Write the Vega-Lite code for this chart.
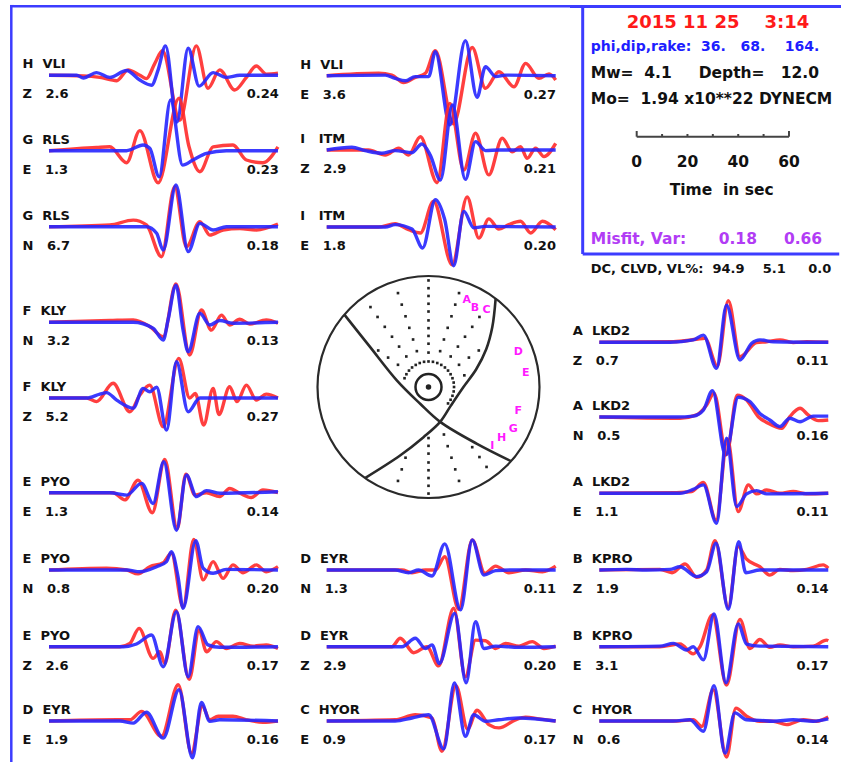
{
"$schema": "https://vega.github.io/schema/vega-lite/v6.json",
"padding": 0,
"spacing": 0,
"background": "white",
"config": {
  "view": {"stroke": null},
  "concat": {"spacing": 0},
  "axis": {"disable": true},
  "legend": {"disable": true},
  "range": {"category": ["#ff2a2a", "#2626ff"]},
  "line": {"strokeWidth": 3.4, "interpolate": "monotone", "opacity": 0.9},
  "text": {"font": "DejaVu Sans", "fontWeight": "bold", "fontSize": 13, "baseline": "middle", "align": "left", "color": "#111"}
},
"datasets": {
"lab": [
{"p":"L1","st":"H\u00a0\u00a0VLI","cm":"Z\u00a0\u00a0\u00a02.6","vr":"0.24"},
{"p":"L2","st":"G\u00a0\u00a0RLS","cm":"E\u00a0\u00a0\u00a01.3","vr":"0.23"},
{"p":"L3","st":"G\u00a0\u00a0RLS","cm":"N\u00a0\u00a0\u00a06.7","vr":"0.18"},
{"p":"L4","st":"F\u00a0\u00a0KLY","cm":"N\u00a0\u00a0\u00a03.2","vr":"0.13"},
{"p":"L5","st":"F\u00a0\u00a0KLY","cm":"Z\u00a0\u00a0\u00a05.2","vr":"0.27"},
{"p":"L6","st":"E\u00a0\u00a0PYO","cm":"E\u00a0\u00a0\u00a01.3","vr":"0.14"},
{"p":"L7","st":"E\u00a0\u00a0PYO","cm":"N\u00a0\u00a0\u00a00.8","vr":"0.20"},
{"p":"L8","st":"E\u00a0\u00a0PYO","cm":"Z\u00a0\u00a0\u00a02.6","vr":"0.17"},
{"p":"L9","st":"D\u00a0\u00a0EYR","cm":"E\u00a0\u00a0\u00a01.9","vr":"0.16"},
{"p":"M1","st":"H\u00a0\u00a0VLI","cm":"E\u00a0\u00a0\u00a03.6","vr":"0.27"},
{"p":"M2","st":"I\u00a0\u00a0\u00a0ITM","cm":"Z\u00a0\u00a0\u00a02.9","vr":"0.21"},
{"p":"M3","st":"I\u00a0\u00a0\u00a0ITM","cm":"E\u00a0\u00a0\u00a01.8","vr":"0.20"},
{"p":"M4","st":"D\u00a0\u00a0EYR","cm":"N\u00a0\u00a0\u00a01.3","vr":"0.11"},
{"p":"M5","st":"D\u00a0\u00a0EYR","cm":"Z\u00a0\u00a0\u00a02.9","vr":"0.20"},
{"p":"M6","st":"C\u00a0\u00a0HYOR","cm":"E\u00a0\u00a0\u00a00.9","vr":"0.17"},
{"p":"R1","st":"A\u00a0\u00a0LKD2","cm":"Z\u00a0\u00a0\u00a00.7","vr":"0.11"},
{"p":"R2","st":"A\u00a0\u00a0LKD2","cm":"N\u00a0\u00a0\u00a00.5","vr":"0.16"},
{"p":"R3","st":"A\u00a0\u00a0LKD2","cm":"E\u00a0\u00a0\u00a01.1","vr":"0.11"},
{"p":"R4","st":"B\u00a0\u00a0KPRO","cm":"Z\u00a0\u00a0\u00a01.9","vr":"0.14"},
{"p":"R5","st":"B\u00a0\u00a0KPRO","cm":"E\u00a0\u00a0\u00a03.1","vr":"0.17"},
{"p":"R6","st":"C\u00a0\u00a0HYOR","cm":"N\u00a0\u00a0\u00a00.6","vr":"0.14"}
],
"info": [
{"k":"date","txt":"2015 11 25\u00a0\u00a0\u00a0\u00a03:14"},
{"k":"phi","txt":"phi,dip,rake:\u00a0\u00a036.\u00a0\u00a0\u00a068.\u00a0\u00a0\u00a0\u00a0164."},
{"k":"mw","txt":"Mw=\u00a0\u00a04.1\u00a0\u00a0\u00a0\u00a0\u00a0Depth=\u00a0\u00a0\u00a012.0"},
{"k":"mo","txt":"Mo=\u00a0\u00a01.94 x10**22 DYNECM"},
{"k":"time","txt":"Time\u00a0\u00a0in sec"},
{"k":"mis","txt":"Misfit, Var:\u00a0\u00a0\u00a0\u00a0\u00a0\u00a00.18\u00a0\u00a0\u00a0\u00a0\u00a00.66"},
{"k":"dc","txt":"DC, CLVD, VL%:\u00a0\u00a094.9\u00a0\u00a0\u00a0\u00a05.1\u00a0\u00a0\u00a0\u00a0\u00a00.0"}
],
"tk": [{"v":0},{"v":10},{"v":20},{"v":30},{"v":40},{"v":50},{"v":60}],
"ctr": [{"x":0,"y":0}],
"np": [
{"pl":"A","i":0,"x":-0.758,"y":0.652},{"pl":"A","i":1,"x":-0.527,"y":0.361},{"pl":"A","i":2,"x":-0.286,"y":0.06},{"pl":"A","i":3,"x":-0.075,"y":-0.151},{"pl":"A","i":4,"x":0.105,"y":-0.314},{"pl":"A","i":5,"x":0.437,"y":-0.512},{"pl":"A","i":6,"x":0.744,"y":-0.668},
{"pl":"B","i":0,"x":0.605,"y":0.796},{"pl":"B","i":1,"x":0.575,"y":0.54},{"pl":"B","i":2,"x":0.52,"y":0.34},{"pl":"B","i":3,"x":0.43,"y":0.16},{"pl":"B","i":4,"x":0.315,"y":0.0},{"pl":"B","i":5,"x":0.2,"y":-0.17},{"pl":"B","i":6,"x":0.105,"y":-0.314},{"pl":"B","i":7,"x":-0.045,"y":-0.452},{"pl":"B","i":8,"x":-0.256,"y":-0.617},{"pl":"B","i":9,"x":-0.572,"y":-0.82}
],
"dots": [
{"x":0,"y":0.31},{"x":0,"y":0.39},{"x":0,"y":0.46},{"x":0,"y":0.53},{"x":0,"y":0.6},{"x":0,"y":0.68},{"x":0,"y":0.75},{"x":0,"y":0.82},{"x":0,"y":0.89},{"x":0,"y":0.96},
{"x":-0.105,"y":0.323},{"x":-0.139,"y":0.428},{"x":-0.173,"y":0.533},{"x":-0.207,"y":0.637},{"x":-0.241,"y":0.742},{"x":-0.275,"y":0.846},
{"x":-0.2,"y":0.275},{"x":-0.265,"y":0.364},{"x":-0.329,"y":0.453},{"x":-0.394,"y":0.542},{"x":-0.459,"y":0.631},{"x":-0.523,"y":0.72},
{"x":-0.275,"y":0.2},{"x":-0.364,"y":0.265},{"x":-0.453,"y":0.329},
{"x":0.105,"y":0.323},{"x":0.139,"y":0.428},{"x":0.173,"y":0.533},{"x":0.207,"y":0.637},{"x":0.241,"y":0.742},{"x":0.275,"y":0.846},
{"x":0.2,"y":0.275},{"x":0.265,"y":0.364},{"x":0.329,"y":0.453},{"x":0.394,"y":0.542},{"x":0.459,"y":0.631},
{"x":0.275,"y":0.2},{"x":0.364,"y":0.265},{"x":0.453,"y":0.329},{"x":0.323,"y":0.105},
{"x":0.176,"y":-0.148},{"x":0.199,"y":-0.115},{"x":0.216,"y":-0.079},{"x":0.227,"y":-0.04},{"x":0.23,"y":0},{"x":0.227,"y":0.04},{"x":0.216,"y":0.079},{"x":0.199,"y":0.115},{"x":0.176,"y":0.148},{"x":0.148,"y":0.176},{"x":0.115,"y":0.199},{"x":0.079,"y":0.216},{"x":0.04,"y":0.227},{"x":0,"y":0.23},{"x":-0.04,"y":0.227},{"x":-0.079,"y":0.216},{"x":-0.115,"y":0.199},{"x":-0.148,"y":0.176},{"x":-0.176,"y":0.148},{"x":-0.199,"y":0.115},{"x":-0.216,"y":0.079},
{"x":0,"y":-0.46},{"x":0,"y":-0.53},{"x":0,"y":-0.6},{"x":0,"y":-0.68},{"x":0,"y":-0.75},{"x":0,"y":-0.82},{"x":0,"y":-0.89},{"x":0,"y":-0.96},
{"x":0.139,"y":-0.428},{"x":0.173,"y":-0.533},{"x":0.207,"y":-0.637},{"x":0.241,"y":-0.742},{"x":0.275,"y":-0.846},
{"x":0.394,"y":-0.542},{"x":0.459,"y":-0.631},{"x":0.523,"y":-0.72},
{"x":-0.207,"y":-0.637},{"x":-0.241,"y":-0.742},{"x":-0.275,"y":-0.846}
],
"sta": [
{"k":"A","x":0.344,"y":0.784},{"k":"B","x":0.419,"y":0.714},{"k":"C","x":0.524,"y":0.694},{"k":"D","x":0.809,"y":0.318},{"k":"E","x":0.876,"y":0.123},{"k":"F","x":0.809,"y":-0.216},{"k":"G","x":0.764,"y":-0.378},{"k":"H","x":0.659,"y":-0.462},{"k":"I","x":0.575,"y":-0.529}
],
"w": [
{"p":"L1","s":"o","t":0,"a":0},{"p":"L1","s":"o","t":13.5,"a":-0.02},{"p":"L1","s":"o","t":20,"a":-0.07},{"p":"L1","s":"o","t":26.6,"a":-0.18},{"p":"L1","s":"o","t":31.1,"a":0.18},{"p":"L1","s":"o","t":35.7,"a":0},{"p":"L1","s":"o","t":38.3,"a":-0.11},{"p":"L1","s":"o","t":41.6,"a":0.4},{"p":"L1","s":"o","t":44.6,"a":0.82},{"p":"L1","s":"o","t":51.4,"a":-1.5},{"p":"L1","s":"o","t":57.9,"a":0.98},{"p":"L1","s":"o","t":62.5,"a":-0.43},{"p":"L1","s":"o","t":67.1,"a":0.18},{"p":"L1","s":"o","t":73,"a":-0.49},{"p":"L1","s":"o","t":77.6,"a":-0.07},{"p":"L1","s":"o","t":81.5,"a":0.31},{"p":"L1","s":"o","t":85.4,"a":0.04},{"p":"L1","s":"o","t":90,"a":0.07},
{"p":"L1","s":"s","t":0,"a":0},{"p":"L1","s":"s","t":10.9,"a":0},{"p":"L1","s":"s","t":13.5,"a":-0.09},{"p":"L1","s":"s","t":18.7,"a":0.09},{"p":"L1","s":"s","t":23.9,"a":-0.07},{"p":"L1","s":"s","t":30.5,"a":0.16},{"p":"L1","s":"s","t":35.7,"a":-0.16},{"p":"L1","s":"s","t":40.3,"a":-0.33},{"p":"L1","s":"s","t":42.9,"a":0.18},{"p":"L1","s":"s","t":45.8,"a":0.98},{"p":"L1","s":"s","t":50.3,"a":-1.56},{"p":"L1","s":"s","t":54.7,"a":0.9},{"p":"L1","s":"s","t":59,"a":-0.36},{"p":"L1","s":"s","t":64.5,"a":0.09},{"p":"L1","s":"s","t":69.7,"a":-0.07},{"p":"L1","s":"s","t":75,"a":0},{"p":"L1","s":"s","t":90,"a":0},
{"p":"L2","s":"o","t":0,"a":0},{"p":"L2","s":"o","t":18.7,"a":0.11},{"p":"L2","s":"o","t":23.9,"a":0.13},{"p":"L2","s":"o","t":30.5,"a":-0.4},{"p":"L2","s":"o","t":35.7,"a":0.67},{"p":"L2","s":"o","t":42.9,"a":-1.07},{"p":"L2","s":"o","t":51.1,"a":1.75},{"p":"L2","s":"o","t":55,"a":0.15},{"p":"L2","s":"o","t":59.3,"a":-0.7},{"p":"L2","s":"o","t":64.5,"a":0.13},{"p":"L2","s":"o","t":72.3,"a":0.19},{"p":"L2","s":"o","t":77.6,"a":-0.31},{"p":"L2","s":"o","t":84.1,"a":-0.4},{"p":"L2","s":"o","t":90,"a":0.13},
{"p":"L2","s":"s","t":0,"a":0},{"p":"L2","s":"s","t":30.5,"a":0},{"p":"L2","s":"s","t":37,"a":0.19},{"p":"L2","s":"s","t":39.6,"a":0.08},{"p":"L2","s":"s","t":43.3,"a":-0.87},{"p":"L2","s":"s","t":47.8,"a":1.69},{"p":"L2","s":"s","t":52.5,"a":-0.48},{"p":"L2","s":"s","t":56.6,"a":-0.31},{"p":"L2","s":"s","t":61.9,"a":-0.09},{"p":"L2","s":"s","t":69.7,"a":0},{"p":"L2","s":"s","t":90,"a":0},
{"p":"L3","s":"o","t":0,"a":0},{"p":"L3","s":"o","t":23.9,"a":0.06},{"p":"L3","s":"o","t":33.1,"a":0.22},{"p":"L3","s":"o","t":38.3,"a":0.06},{"p":"L3","s":"o","t":44.2,"a":-1},{"p":"L3","s":"o","t":49.4,"a":1.33},{"p":"L3","s":"o","t":54,"a":-0.67},{"p":"L3","s":"o","t":59.3,"a":0.17},{"p":"L3","s":"o","t":63.2,"a":-0.28},{"p":"L3","s":"o","t":68.4,"a":-0.11},{"p":"L3","s":"o","t":75,"a":-0.06},{"p":"L3","s":"o","t":81.5,"a":-0.11},{"p":"L3","s":"o","t":90,"a":0.09},
{"p":"L3","s":"s","t":0,"a":0},{"p":"L3","s":"s","t":38.3,"a":0},{"p":"L3","s":"s","t":42.3,"a":-0.22},{"p":"L3","s":"s","t":44.9,"a":-0.78},{"p":"L3","s":"s","t":49.9,"a":1.39},{"p":"L3","s":"s","t":54.7,"a":-0.83},{"p":"L3","s":"s","t":59.3,"a":0.11},{"p":"L3","s":"s","t":64.5,"a":-0.11},{"p":"L3","s":"s","t":69.7,"a":0},{"p":"L3","s":"s","t":90,"a":0},
{"p":"L4","s":"o","t":0,"a":0},{"p":"L4","s":"o","t":23.9,"a":0.06},{"p":"L4","s":"o","t":33.1,"a":0.08},{"p":"L4","s":"o","t":39.6,"a":-0.14},{"p":"L4","s":"o","t":44.9,"a":-0.48},{"p":"L4","s":"o","t":49.9,"a":1.28},{"p":"L4","s":"o","t":55.3,"a":-1.09},{"p":"L4","s":"o","t":59.9,"a":0.41},{"p":"L4","s":"o","t":63.8,"a":-0.26},{"p":"L4","s":"o","t":67.8,"a":0.24},{"p":"L4","s":"o","t":71,"a":-0.09},{"p":"L4","s":"o","t":75,"a":0.1},{"p":"L4","s":"o","t":78.9,"a":-0.06},{"p":"L4","s":"o","t":85.4,"a":0.08},{"p":"L4","s":"o","t":90,"a":-0.03},
{"p":"L4","s":"s","t":0,"a":0},{"p":"L4","s":"s","t":33.1,"a":0},{"p":"L4","s":"s","t":40.9,"a":-0.2},{"p":"L4","s":"s","t":44.9,"a":-0.59},{"p":"L4","s":"s","t":46.8,"a":0.08},{"p":"L4","s":"s","t":49.9,"a":1.24},{"p":"L4","s":"s","t":52.7,"a":-0.26},{"p":"L4","s":"s","t":54.7,"a":-0.98},{"p":"L4","s":"s","t":59.3,"a":0.3},{"p":"L4","s":"s","t":63.2,"a":-0.09},{"p":"L4","s":"s","t":67.1,"a":0.06},{"p":"L4","s":"s","t":72.3,"a":-0.03},{"p":"L4","s":"s","t":90,"a":0},
{"p":"L5","s":"o","t":0,"a":0},{"p":"L5","s":"o","t":14.8,"a":0},{"p":"L5","s":"o","t":18.7,"a":-0.12},{"p":"L5","s":"o","t":25.2,"a":0.49},{"p":"L5","s":"o","t":31.8,"a":-0.46},{"p":"L5","s":"o","t":35.7,"a":0.1},{"p":"L5","s":"o","t":39.6,"a":0.43},{"p":"L5","s":"o","t":44.9,"a":-0.96},{"p":"L5","s":"o","t":51,"a":1.32},{"p":"L5","s":"o","t":55.3,"a":0},{"p":"L5","s":"o","t":57.5,"a":0.15},{"p":"L5","s":"o","t":60.8,"a":-0.9},{"p":"L5","s":"o","t":64.5,"a":0.32},{"p":"L5","s":"o","t":66.8,"a":-0.55},{"p":"L5","s":"o","t":71,"a":0.38},{"p":"L5","s":"o","t":73.9,"a":-0.12},{"p":"L5","s":"o","t":77.6,"a":0.43},{"p":"L5","s":"o","t":81.5,"a":-0.07},{"p":"L5","s":"o","t":85.4,"a":0.13},{"p":"L5","s":"o","t":90,"a":0},
{"p":"L5","s":"s","t":0,"a":0},{"p":"L5","s":"s","t":14.8,"a":0},{"p":"L5","s":"s","t":20,"a":0.13},{"p":"L5","s":"s","t":22.6,"a":0.18},{"p":"L5","s":"s","t":26.6,"a":-0.07},{"p":"L5","s":"s","t":33.1,"a":-0.34},{"p":"L5","s":"s","t":37,"a":0.32},{"p":"L5","s":"s","t":39.6,"a":0.21},{"p":"L5","s":"s","t":42.3,"a":0.36},{"p":"L5","s":"s","t":46.2,"a":-1.07},{"p":"L5","s":"s","t":50.1,"a":1.21},{"p":"L5","s":"s","t":54.7,"a":-0.46},{"p":"L5","s":"s","t":59.3,"a":0},{"p":"L5","s":"s","t":90,"a":0},
{"p":"L6","s":"o","t":0,"a":0},{"p":"L6","s":"o","t":25.2,"a":0},{"p":"L6","s":"o","t":29.8,"a":-0.24},{"p":"L6","s":"o","t":35,"a":0.42},{"p":"L6","s":"o","t":40.6,"a":-0.67},{"p":"L6","s":"o","t":45.5,"a":1.11},{"p":"L6","s":"o","t":50.4,"a":-1.2},{"p":"L6","s":"o","t":53.8,"a":0.62},{"p":"L6","s":"o","t":57.4,"a":-0.08},{"p":"L6","s":"o","t":61.9,"a":0},{"p":"L6","s":"o","t":67.1,"a":-0.13},{"p":"L6","s":"o","t":71,"a":0.14},{"p":"L6","s":"o","t":75,"a":-0.02},{"p":"L6","s":"o","t":79.5,"a":-0.16},{"p":"L6","s":"o","t":84.1,"a":0.09},{"p":"L6","s":"o","t":90,"a":0},
{"p":"L6","s":"s","t":0,"a":0},{"p":"L6","s":"s","t":23.9,"a":0},{"p":"L6","s":"s","t":30.5,"a":-0.08},{"p":"L6","s":"s","t":36.4,"a":0.31},{"p":"L6","s":"s","t":40.9,"a":-0.36},{"p":"L6","s":"s","t":45.1,"a":1.03},{"p":"L6","s":"s","t":50.1,"a":-1.25},{"p":"L6","s":"s","t":54,"a":0.59},{"p":"L6","s":"s","t":58,"a":-0.13},{"p":"L6","s":"s","t":61.9,"a":0.07},{"p":"L6","s":"s","t":67.1,"a":-0.02},{"p":"L6","s":"s","t":90,"a":0.03},
{"p":"L7","s":"o","t":0,"a":0},{"p":"L7","s":"o","t":22.6,"a":0.06},{"p":"L7","s":"o","t":30.5,"a":0},{"p":"L7","s":"o","t":35,"a":-0.13},{"p":"L7","s":"o","t":39.6,"a":0.11},{"p":"L7","s":"o","t":44.9,"a":0.24},{"p":"L7","s":"o","t":48.1,"a":0.56},{"p":"L7","s":"o","t":52.7,"a":-1.24},{"p":"L7","s":"o","t":56.9,"a":1.02},{"p":"L7","s":"o","t":60.6,"a":-0.33},{"p":"L7","s":"o","t":64.5,"a":0.28},{"p":"L7","s":"o","t":68.4,"a":-0.28},{"p":"L7","s":"o","t":72.3,"a":0.17},{"p":"L7","s":"o","t":76.3,"a":-0.09},{"p":"L7","s":"o","t":81.5,"a":0.17},{"p":"L7","s":"o","t":85.4,"a":-0.06},{"p":"L7","s":"o","t":90,"a":0.11},
{"p":"L7","s":"s","t":0,"a":0},{"p":"L7","s":"s","t":30.5,"a":0},{"p":"L7","s":"s","t":35.7,"a":-0.06},{"p":"L7","s":"s","t":42.3,"a":0.11},{"p":"L7","s":"s","t":46.2,"a":0.28},{"p":"L7","s":"s","t":48.1,"a":0.61},{"p":"L7","s":"s","t":50.7,"a":-0.22},{"p":"L7","s":"s","t":52.7,"a":-1.28},{"p":"L7","s":"s","t":57.7,"a":0.98},{"p":"L7","s":"s","t":60.6,"a":0.06},{"p":"L7","s":"s","t":64.5,"a":-0.11},{"p":"L7","s":"s","t":69.7,"a":0.02},{"p":"L7","s":"s","t":90,"a":0},
{"p":"L8","s":"o","t":0,"a":0},{"p":"L8","s":"o","t":27.9,"a":0},{"p":"L8","s":"o","t":31.8,"a":0.11},{"p":"L8","s":"o","t":35.4,"a":0.61},{"p":"L8","s":"o","t":40.9,"a":-0.39},{"p":"L8","s":"o","t":43.6,"a":-0.17},{"p":"L8","s":"o","t":45.5,"a":-0.56},{"p":"L8","s":"o","t":49.8,"a":1.22},{"p":"L8","s":"o","t":55.1,"a":-1.09},{"p":"L8","s":"o","t":59,"a":0.56},{"p":"L8","s":"o","t":61.9,"a":-0.17},{"p":"L8","s":"o","t":65.8,"a":0.17},{"p":"L8","s":"o","t":69.7,"a":-0.06},{"p":"L8","s":"o","t":75,"a":0.11},{"p":"L8","s":"o","t":80.2,"a":0.02},{"p":"L8","s":"o","t":85.4,"a":0.06},{"p":"L8","s":"o","t":90,"a":-0.06},
{"p":"L8","s":"s","t":0,"a":0},{"p":"L8","s":"s","t":29.2,"a":0},{"p":"L8","s":"s","t":34.4,"a":0.09},{"p":"L8","s":"s","t":40.3,"a":0.39},{"p":"L8","s":"s","t":44.9,"a":-0.67},{"p":"L8","s":"s","t":50.1,"a":1.17},{"p":"L8","s":"s","t":54.7,"a":-1},{"p":"L8","s":"s","t":58.6,"a":0.67},{"p":"L8","s":"s","t":62.5,"a":0.06},{"p":"L8","s":"s","t":67.1,"a":-0.02},{"p":"L8","s":"s","t":90,"a":0},
{"p":"L9","s":"o","t":0,"a":0},{"p":"L9","s":"o","t":26.6,"a":0.04},{"p":"L9","s":"o","t":31.8,"a":0.04},{"p":"L9","s":"o","t":36.4,"a":0.32},{"p":"L9","s":"o","t":44.2,"a":-0.51},{"p":"L9","s":"o","t":50.8,"a":1.21},{"p":"L9","s":"o","t":56,"a":-1.07},{"p":"L9","s":"o","t":60.3,"a":0.49},{"p":"L9","s":"o","t":63.2,"a":0.04},{"p":"L9","s":"o","t":66.5,"a":0.16},{"p":"L9","s":"o","t":72.3,"a":0.16},{"p":"L9","s":"o","t":77.6,"a":0.04},{"p":"L9","s":"o","t":84.1,"a":-0.04},{"p":"L9","s":"o","t":90,"a":0},
{"p":"L9","s":"s","t":0,"a":0},{"p":"L9","s":"s","t":27.9,"a":0},{"p":"L9","s":"s","t":33.1,"a":-0.07},{"p":"L9","s":"s","t":38.3,"a":0.29},{"p":"L9","s":"s","t":44.9,"a":-0.57},{"p":"L9","s":"s","t":51.1,"a":1.04},{"p":"L9","s":"s","t":56.4,"a":-1.23},{"p":"L9","s":"s","t":59.9,"a":0.62},{"p":"L9","s":"s","t":63.2,"a":-0.01},{"p":"L9","s":"s","t":67.1,"a":0.04},{"p":"L9","s":"s","t":90,"a":0},
{"p":"M1","s":"o","t":0,"a":0},{"p":"M1","s":"o","t":20.4,"a":0.08},{"p":"M1","s":"o","t":25.6,"a":0.02},{"p":"M1","s":"o","t":30.2,"a":-0.23},{"p":"M1","s":"o","t":34.8,"a":-0.06},{"p":"M1","s":"o","t":38.8,"a":0.08},{"p":"M1","s":"o","t":42.7,"a":0.83},{"p":"M1","s":"o","t":49.8,"a":-1.6},{"p":"M1","s":"o","t":57.2,"a":0.94},{"p":"M1","s":"o","t":62.4,"a":-0.42},{"p":"M1","s":"o","t":67.7,"a":0.13},{"p":"M1","s":"o","t":73.6,"a":-0.37},{"p":"M1","s":"o","t":78.2,"a":0.41},{"p":"M1","s":"o","t":83.4,"a":-0.09},{"p":"M1","s":"o","t":87.4,"a":0.06},{"p":"M1","s":"o","t":90,"a":-0.14},
{"p":"M1","s":"s","t":0,"a":0},{"p":"M1","s":"s","t":23,"a":0.02},{"p":"M1","s":"s","t":26.9,"a":-0.09},{"p":"M1","s":"s","t":30.9,"a":-0.17},{"p":"M1","s":"s","t":34.8,"a":-0.03},{"p":"M1","s":"s","t":40.1,"a":-0.03},{"p":"M1","s":"s","t":42.7,"a":0.8},{"p":"M1","s":"s","t":48.4,"a":-1.64},{"p":"M1","s":"s","t":54.5,"a":1.17},{"p":"M1","s":"s","t":59.1,"a":-0.72},{"p":"M1","s":"s","t":62.4,"a":0.3},{"p":"M1","s":"s","t":66.4,"a":-0.03},{"p":"M1","s":"s","t":70.3,"a":0.02},{"p":"M1","s":"s","t":90,"a":0},
{"p":"M2","s":"o","t":0,"a":0},{"p":"M2","s":"o","t":16.4,"a":0},{"p":"M2","s":"o","t":23,"a":-0.17},{"p":"M2","s":"o","t":28.3,"a":0.06},{"p":"M2","s":"o","t":32.2,"a":-0.17},{"p":"M2","s":"o","t":36.8,"a":0.44},{"p":"M2","s":"o","t":43.4,"a":-1.09},{"p":"M2","s":"o","t":48.4,"a":1.55},{"p":"M2","s":"o","t":53.9,"a":-0.67},{"p":"M2","s":"o","t":58.5,"a":0.56},{"p":"M2","s":"o","t":63.7,"a":-0.83},{"p":"M2","s":"o","t":69,"a":0.39},{"p":"M2","s":"o","t":72.9,"a":-0.06},{"p":"M2","s":"o","t":76.2,"a":0.11},{"p":"M2","s":"o","t":78.8,"a":-0.28},{"p":"M2","s":"o","t":82.1,"a":0.06},{"p":"M2","s":"o","t":85.4,"a":-0.22},{"p":"M2","s":"o","t":90,"a":0.22},
{"p":"M2","s":"s","t":0,"a":0},{"p":"M2","s":"s","t":9.9,"a":0.09},{"p":"M2","s":"s","t":15.1,"a":-0.02},{"p":"M2","s":"s","t":21.7,"a":-0.11},{"p":"M2","s":"s","t":26.9,"a":-0.02},{"p":"M2","s":"s","t":33.5,"a":-0.09},{"p":"M2","s":"s","t":37.4,"a":0.2},{"p":"M2","s":"s","t":40.7,"a":-0.17},{"p":"M2","s":"s","t":44.7,"a":-1},{"p":"M2","s":"s","t":49.4,"a":1.5},{"p":"M2","s":"s","t":54.5,"a":-0.98},{"p":"M2","s":"s","t":58.5,"a":0.28},{"p":"M2","s":"s","t":62.4,"a":-0.02},{"p":"M2","s":"s","t":67.7,"a":0},{"p":"M2","s":"s","t":90,"a":0},
{"p":"M3","s":"o","t":0,"a":0},{"p":"M3","s":"o","t":20.4,"a":0},{"p":"M3","s":"o","t":26.9,"a":0.11},{"p":"M3","s":"o","t":32.2,"a":-0.09},{"p":"M3","s":"o","t":36.8,"a":-0.2},{"p":"M3","s":"o","t":42,"a":0.86},{"p":"M3","s":"o","t":49.3,"a":-1.26},{"p":"M3","s":"o","t":55.2,"a":1},{"p":"M3","s":"o","t":59.8,"a":-0.37},{"p":"M3","s":"o","t":63.7,"a":0.27},{"p":"M3","s":"o","t":67.7,"a":-0.07},{"p":"M3","s":"o","t":71.6,"a":0.08},{"p":"M3","s":"o","t":76.2,"a":0.19},{"p":"M3","s":"o","t":80.2,"a":-0.2},{"p":"M3","s":"o","t":84.8,"a":0.19},{"p":"M3","s":"o","t":90,"a":-0.09},
{"p":"M3","s":"s","t":0,"a":0},{"p":"M3","s":"s","t":23,"a":0},{"p":"M3","s":"s","t":26.9,"a":0.08},{"p":"M3","s":"s","t":33.5,"a":-0.07},{"p":"M3","s":"s","t":37.7,"a":-0.7},{"p":"M3","s":"s","t":42.7,"a":0.91},{"p":"M3","s":"s","t":46.4,"a":0.24},{"p":"M3","s":"s","t":49.9,"a":-1.29},{"p":"M3","s":"s","t":53.9,"a":0.52},{"p":"M3","s":"s","t":57.8,"a":-0.03},{"p":"M3","s":"s","t":62.4,"a":0.02},{"p":"M3","s":"s","t":90,"a":0},
{"p":"M4","s":"o","t":0,"a":0},{"p":"M4","s":"o","t":29.6,"a":0},{"p":"M4","s":"o","t":33.5,"a":-0.09},{"p":"M4","s":"o","t":38.8,"a":0},{"p":"M4","s":"o","t":42.7,"a":0},{"p":"M4","s":"o","t":46.4,"a":0.44},{"p":"M4","s":"o","t":51.9,"a":-1.31},{"p":"M4","s":"o","t":57.2,"a":1},{"p":"M4","s":"o","t":62.2,"a":-0.11},{"p":"M4","s":"o","t":66.4,"a":0.13},{"p":"M4","s":"o","t":71.6,"a":-0.09},{"p":"M4","s":"o","t":78.2,"a":0},{"p":"M4","s":"o","t":84.8,"a":-0.06},{"p":"M4","s":"o","t":90,"a":0.13},
{"p":"M4","s":"s","t":0,"a":0},{"p":"M4","s":"s","t":26.9,"a":0},{"p":"M4","s":"s","t":32.2,"a":-0.09},{"p":"M4","s":"s","t":36.1,"a":0},{"p":"M4","s":"s","t":41.4,"a":-0.2},{"p":"M4","s":"s","t":46.4,"a":0.87},{"p":"M4","s":"s","t":52.6,"a":-1.33},{"p":"M4","s":"s","t":57.2,"a":1},{"p":"M4","s":"s","t":61.8,"a":-0.17},{"p":"M4","s":"s","t":66.4,"a":-0.02},{"p":"M4","s":"s","t":72.9,"a":0},{"p":"M4","s":"s","t":90,"a":0},
{"p":"M5","s":"o","t":0,"a":0},{"p":"M5","s":"o","t":25.6,"a":0},{"p":"M5","s":"o","t":28.9,"a":0.28},{"p":"M5","s":"o","t":34.2,"a":-0.2},{"p":"M5","s":"o","t":39.4,"a":0},{"p":"M5","s":"o","t":44,"a":-0.64},{"p":"M5","s":"o","t":49.9,"a":1.28},{"p":"M5","s":"o","t":54.5,"a":-1},{"p":"M5","s":"o","t":58.5,"a":0.22},{"p":"M5","s":"o","t":62.4,"a":0.2},{"p":"M5","s":"o","t":66.4,"a":-0.06},{"p":"M5","s":"o","t":70.3,"a":0.11},{"p":"M5","s":"o","t":75.6,"a":0.02},{"p":"M5","s":"o","t":80.8,"a":0.17},{"p":"M5","s":"o","t":85.4,"a":-0.06},{"p":"M5","s":"o","t":90,"a":0.02},
{"p":"M5","s":"s","t":0,"a":0},{"p":"M5","s":"s","t":29.6,"a":0},{"p":"M5","s":"s","t":34.8,"a":0.28},{"p":"M5","s":"s","t":38.8,"a":-0.06},{"p":"M5","s":"s","t":41.4,"a":0.06},{"p":"M5","s":"s","t":44.3,"a":-0.56},{"p":"M5","s":"s","t":50.3,"a":1.11},{"p":"M5","s":"s","t":54.8,"a":-1.2},{"p":"M5","s":"s","t":58.5,"a":0.83},{"p":"M5","s":"s","t":61.8,"a":-0.06},{"p":"M5","s":"s","t":66.4,"a":0.02},{"p":"M5","s":"s","t":75.6,"a":-0.02},{"p":"M5","s":"s","t":90,"a":0},
{"p":"M6","s":"o","t":0,"a":0},{"p":"M6","s":"o","t":26.9,"a":0.04},{"p":"M6","s":"o","t":34.8,"a":0.21},{"p":"M6","s":"o","t":41.4,"a":0.1},{"p":"M6","s":"o","t":45.3,"a":-1.01},{"p":"M6","s":"o","t":50.8,"a":1.18},{"p":"M6","s":"o","t":55.4,"a":-0.27},{"p":"M6","s":"o","t":59.1,"a":0.36},{"p":"M6","s":"o","t":63.7,"a":-0.12},{"p":"M6","s":"o","t":67.7,"a":-0.23},{"p":"M6","s":"o","t":74.2,"a":0.04},{"p":"M6","s":"o","t":78.2,"a":0.13},{"p":"M6","s":"o","t":83.4,"a":0.07},{"p":"M6","s":"o","t":90,"a":0},
{"p":"M6","s":"s","t":0,"a":0},{"p":"M6","s":"s","t":26.9,"a":0},{"p":"M6","s":"s","t":33.5,"a":0.1},{"p":"M6","s":"s","t":40.1,"a":0.21},{"p":"M6","s":"s","t":46,"a":-0.93},{"p":"M6","s":"s","t":50.2,"a":1.27},{"p":"M6","s":"s","t":54.5,"a":-0.51},{"p":"M6","s":"s","t":57.8,"a":0.21},{"p":"M6","s":"s","t":62.4,"a":-0.01},{"p":"M6","s":"s","t":67.7,"a":0.04},{"p":"M6","s":"s","t":75.6,"a":0.1},{"p":"M6","s":"s","t":90,"a":0},
{"p":"R1","s":"o","t":0,"a":0},{"p":"R1","s":"o","t":29.1,"a":0.02},{"p":"R1","s":"o","t":38.3,"a":0.1},{"p":"R1","s":"o","t":41.5,"a":0.13},{"p":"R1","s":"o","t":46.4,"a":-0.79},{"p":"R1","s":"o","t":50.7,"a":1.39},{"p":"R1","s":"o","t":55.3,"a":-0.48},{"p":"R1","s":"o","t":61.8,"a":-0.01},{"p":"R1","s":"o","t":65.8,"a":0.02},{"p":"R1","s":"o","t":71,"a":0.08},{"p":"R1","s":"o","t":76.2,"a":-0.01},{"p":"R1","s":"o","t":81.5,"a":0.02},{"p":"R1","s":"o","t":90,"a":0},
{"p":"R1","s":"s","t":0,"a":0},{"p":"R1","s":"s","t":27.8,"a":0},{"p":"R1","s":"s","t":36.9,"a":0.08},{"p":"R1","s":"s","t":40.9,"a":0.24},{"p":"R1","s":"s","t":46.1,"a":-0.87},{"p":"R1","s":"s","t":50,"a":1.24},{"p":"R1","s":"s","t":55.3,"a":-0.59},{"p":"R1","s":"s","t":59.9,"a":-0.03},{"p":"R1","s":"s","t":63.1,"a":0.08},{"p":"R1","s":"s","t":68.4,"a":0.02},{"p":"R1","s":"s","t":90,"a":0},
{"p":"R2","s":"o","t":0,"a":0},{"p":"R2","s":"o","t":31.7,"a":-0.04},{"p":"R2","s":"o","t":38.3,"a":0.07},{"p":"R2","s":"o","t":42.2,"a":0.4},{"p":"R2","s":"o","t":45.1,"a":0.79},{"p":"R2","s":"o","t":50,"a":-1.25},{"p":"R2","s":"o","t":54.2,"a":0.73},{"p":"R2","s":"o","t":57.9,"a":0.57},{"p":"R2","s":"o","t":62.5,"a":0.01},{"p":"R2","s":"o","t":66.4,"a":-0.21},{"p":"R2","s":"o","t":71.7,"a":-0.38},{"p":"R2","s":"o","t":74.9,"a":0.01},{"p":"R2","s":"o","t":78.9,"a":0.29},{"p":"R2","s":"o","t":82.1,"a":0.07},{"p":"R2","s":"o","t":86.1,"a":-0.12},{"p":"R2","s":"o","t":90,"a":-0.1},
{"p":"R2","s":"s","t":0,"a":0},{"p":"R2","s":"s","t":30.4,"a":0},{"p":"R2","s":"s","t":36.9,"a":0.03},{"p":"R2","s":"s","t":40.9,"a":0.23},{"p":"R2","s":"s","t":44.5,"a":0.88},{"p":"R2","s":"s","t":49.6,"a":-1.27},{"p":"R2","s":"s","t":54.6,"a":0.66},{"p":"R2","s":"s","t":59.2,"a":0.51},{"p":"R2","s":"s","t":63.1,"a":0.12},{"p":"R2","s":"s","t":67,"a":-0.1},{"p":"R2","s":"s","t":71,"a":-0.32},{"p":"R2","s":"s","t":74.9,"a":-0.04},{"p":"R2","s":"s","t":78.9,"a":-0.16},{"p":"R2","s":"s","t":84.1,"a":0.03},{"p":"R2","s":"s","t":90,"a":0.03},
{"p":"R3","s":"o","t":0,"a":0},{"p":"R3","s":"o","t":30.4,"a":0.02},{"p":"R3","s":"o","t":36.3,"a":0.06},{"p":"R3","s":"o","t":40.9,"a":0.36},{"p":"R3","s":"o","t":45.9,"a":-0.89},{"p":"R3","s":"o","t":50.4,"a":1.8},{"p":"R3","s":"o","t":54.6,"a":-0.61},{"p":"R3","s":"o","t":58.6,"a":0.28},{"p":"R3","s":"o","t":61.8,"a":-0.02},{"p":"R3","s":"o","t":65.8,"a":0.11},{"p":"R3","s":"o","t":71,"a":0},{"p":"R3","s":"o","t":76.2,"a":0.06},{"p":"R3","s":"o","t":81.5,"a":-0.02},{"p":"R3","s":"o","t":90,"a":0},
{"p":"R3","s":"s","t":0,"a":0},{"p":"R3","s":"s","t":31.7,"a":0},{"p":"R3","s":"s","t":36.9,"a":0.13},{"p":"R3","s":"s","t":40.9,"a":0.28},{"p":"R3","s":"s","t":46.1,"a":-1},{"p":"R3","s":"s","t":50,"a":1.84},{"p":"R3","s":"s","t":54,"a":-0.44},{"p":"R3","s":"s","t":57.9,"a":-0.02},{"p":"R3","s":"s","t":61.8,"a":0.09},{"p":"R3","s":"s","t":65.8,"a":-0.02},{"p":"R3","s":"s","t":90,"a":0},
{"p":"R4","s":"o","t":0,"a":0},{"p":"R4","s":"o","t":23.8,"a":0.02},{"p":"R4","s":"o","t":28.6,"a":-0.09},{"p":"R4","s":"o","t":33.7,"a":0.2},{"p":"R4","s":"o","t":38.3,"a":-0.24},{"p":"R4","s":"o","t":42.2,"a":0},{"p":"R4","s":"o","t":45.5,"a":0.98},{"p":"R4","s":"o","t":50.7,"a":-1.24},{"p":"R4","s":"o","t":54.6,"a":0.78},{"p":"R4","s":"o","t":57.9,"a":0.36},{"p":"R4","s":"o","t":63.1,"a":0.11},{"p":"R4","s":"o","t":67,"a":-0.17},{"p":"R4","s":"o","t":71,"a":0.02},{"p":"R4","s":"o","t":76.2,"a":-0.02},{"p":"R4","s":"o","t":81.5,"a":0.02},{"p":"R4","s":"o","t":88,"a":0.17},{"p":"R4","s":"o","t":90,"a":0.06},
{"p":"R4","s":"s","t":0,"a":0},{"p":"R4","s":"s","t":10.7,"a":0.02},{"p":"R4","s":"s","t":18.6,"a":0},{"p":"R4","s":"s","t":27.8,"a":0.02},{"p":"R4","s":"s","t":31.7,"a":0.11},{"p":"R4","s":"s","t":38.3,"a":-0.22},{"p":"R4","s":"s","t":42.2,"a":-0.06},{"p":"R4","s":"s","t":45.9,"a":0.89},{"p":"R4","s":"s","t":50.7,"a":-1.31},{"p":"R4","s":"s","t":54.8,"a":0.94},{"p":"R4","s":"s","t":57.6,"a":-0.09},{"p":"R4","s":"s","t":63.1,"a":0},{"p":"R4","s":"s","t":90,"a":0},
{"p":"R5","s":"o","t":0,"a":0},{"p":"R5","s":"o","t":23.8,"a":0},{"p":"R5","s":"o","t":31.7,"a":0.09},{"p":"R5","s":"o","t":36.9,"a":-0.24},{"p":"R5","s":"o","t":39.6,"a":0},{"p":"R5","s":"o","t":44.5,"a":1.06},{"p":"R5","s":"o","t":50,"a":-1.28},{"p":"R5","s":"o","t":55.3,"a":0.91},{"p":"R5","s":"o","t":59.2,"a":-0.06},{"p":"R5","s":"o","t":63.1,"a":0.24},{"p":"R5","s":"o","t":67,"a":-0.02},{"p":"R5","s":"o","t":71,"a":0.06},{"p":"R5","s":"o","t":76.2,"a":0},{"p":"R5","s":"o","t":84.1,"a":0.02},{"p":"R5","s":"o","t":89.3,"a":0.22},{"p":"R5","s":"o","t":90,"a":0.2},
{"p":"R5","s":"s","t":0,"a":0},{"p":"R5","s":"s","t":23.8,"a":0.02},{"p":"R5","s":"s","t":29.1,"a":0.11},{"p":"R5","s":"s","t":34.3,"a":-0.11},{"p":"R5","s":"s","t":36.9,"a":0},{"p":"R5","s":"s","t":40.9,"a":-0.44},{"p":"R5","s":"s","t":45.1,"a":1.09},{"p":"R5","s":"s","t":49.8,"a":-1.2},{"p":"R5","s":"s","t":54.6,"a":0.76},{"p":"R5","s":"s","t":57.9,"a":0.09},{"p":"R5","s":"s","t":63.1,"a":0.02},{"p":"R5","s":"s","t":90,"a":0},
{"p":"R6","s":"o","t":0,"a":0},{"p":"R6","s":"o","t":30.4,"a":0},{"p":"R6","s":"o","t":36.9,"a":0.04},{"p":"R6","s":"o","t":40.3,"a":-0.18},{"p":"R6","s":"o","t":44.8,"a":1.04},{"p":"R6","s":"o","t":50,"a":-1.2},{"p":"R6","s":"o","t":53.7,"a":0.43},{"p":"R6","s":"o","t":57.9,"a":0.16},{"p":"R6","s":"o","t":63.1,"a":-0.01},{"p":"R6","s":"o","t":68.4,"a":-0.01},{"p":"R6","s":"o","t":73.6,"a":-0.12},{"p":"R6","s":"o","t":80.2,"a":0.04},{"p":"R6","s":"o","t":85.4,"a":-0.01},{"p":"R6","s":"o","t":90,"a":0.13},
{"p":"R6","s":"s","t":0,"a":0},{"p":"R6","s":"s","t":29.1,"a":0},{"p":"R6","s":"s","t":35.6,"a":0.04},{"p":"R6","s":"s","t":40.9,"a":-0.34},{"p":"R6","s":"s","t":45.1,"a":1.18},{"p":"R6","s":"s","t":49.4,"a":-1.07},{"p":"R6","s":"s","t":53.3,"a":0.27},{"p":"R6","s":"s","t":57.9,"a":0.04},{"p":"R6","s":"s","t":63.1,"a":0.02},{"p":"R6","s":"s","t":68.4,"a":-0.01},{"p":"R6","s":"s","t":76.2,"a":0.04},{"p":"R6","s":"s","t":84.1,"a":-0.01},{"p":"R6","s":"s","t":90,"a":0.07}
]
},
"hconcat": [
{"width": 14, "height": 762, "data": {"name": "ctr"},
 "layer": [
  {"mark": {"type": "rect", "color": "#3c3cff"}, "encoding": {"x": {"datum": 0.718, "type": "quantitative", "scale": {"domain": [0, 1], "nice": false}}, "x2": {"datum": 0.896}, "y": {"datum": 0.9935, "type": "quantitative", "scale": {"domain": [0, 1], "nice": false}}, "y2": {"datum": 0}}},
  {"mark": {"type": "rect", "color": "#3c3cff"}, "encoding": {"x": {"datum": 0.718}, "x2": {"datum": 1}, "y": {"datum": 0.9935}, "y2": {"datum": 0.9902}}}
 ]},
{"vconcat": [
 {"width":276,"height":113,"data":{"name":"lab"},"transform":[{"filter":"datum.p=='L1'"}],"layer":[
  {"data":{"name":"w"},"transform":[{"filter":"datum.p=='L1'"}],"mark":"line","encoding":{"x":{"field":"t","type":"quantitative","scale":{"domain":[-13.76,94.73],"nice":false}},"y":{"field":"a","type":"quantitative","scale":{"domain":[-1.257,2.51],"nice":false}},"color":{"field":"s","type":"nominal"}}},
  {"mark":{"type":"rect","color":"#3c3cff"},"encoding":{"x":{"datum":-13.76},"x2":{"datum":94.73},"y":{"datum":2.262},"y2":{"datum":2.345}}},
  {"mark":"text","encoding":{"text":{"field":"st"},"x":{"datum":-10.4},"y":{"datum":0.37}}},
  {"mark":"text","encoding":{"text":{"field":"cm"},"x":{"datum":-10.4},"y":{"datum":-0.63}}},
  {"mark":{"type":"text","align":"right"},"encoding":{"text":{"field":"vr"},"x":{"datum":90.3},"y":{"datum":-0.63}}}]},
 {"width":276,"height":76,"data":{"name":"lab"},"transform":[{"filter":"datum.p=='L2'"}],"layer":[
  {"data":{"name":"w"},"transform":[{"filter":"datum.p=='L2'"}],"mark":"line","encoding":{"x":{"field":"t","type":"quantitative","scale":{"domain":[-13.76,94.73],"nice":false}},"y":{"field":"a","type":"quantitative","scale":{"domain":[-1.277,1.257],"nice":false}},"color":{"field":"s","type":"nominal"}}},
  {"mark":"text","encoding":{"text":{"field":"st"},"x":{"datum":-10.4},"y":{"datum":0.37}}},
  {"mark":"text","encoding":{"text":{"field":"cm"},"x":{"datum":-10.4},"y":{"datum":-0.63}}},
  {"mark":{"type":"text","align":"right"},"encoding":{"text":{"field":"vr"},"x":{"datum":90.3},"y":{"datum":-0.63}}}]},
 {"width":276,"height":86,"data":{"name":"lab"},"transform":[{"filter":"datum.p=='L3'"}],"layer":[
  {"data":{"name":"w"},"transform":[{"filter":"datum.p=='L3'"}],"mark":"line","encoding":{"x":{"field":"t","type":"quantitative","scale":{"domain":[-13.76,94.73],"nice":false}},"y":{"field":"a","type":"quantitative","scale":{"domain":[-1.61,1.257],"nice":false}},"color":{"field":"s","type":"nominal"}}},
  {"mark":"text","encoding":{"text":{"field":"st"},"x":{"datum":-10.4},"y":{"datum":0.37}}},
  {"mark":"text","encoding":{"text":{"field":"cm"},"x":{"datum":-10.4},"y":{"datum":-0.63}}},
  {"mark":{"type":"text","align":"right"},"encoding":{"text":{"field":"vr"},"x":{"datum":90.3},"y":{"datum":-0.63}}}]},
 {"width":276,"height":85,"data":{"name":"lab"},"transform":[{"filter":"datum.p=='L4'"}],"layer":[
  {"data":{"name":"w"},"transform":[{"filter":"datum.p=='L4'"}],"mark":"line","encoding":{"x":{"field":"t","type":"quantitative","scale":{"domain":[-13.76,94.73],"nice":false}},"y":{"field":"a","type":"quantitative","scale":{"domain":[-1.257,1.577],"nice":false}},"color":{"field":"s","type":"nominal"}}},
  {"mark":"text","encoding":{"text":{"field":"st"},"x":{"datum":-10.4},"y":{"datum":0.37}}},
  {"mark":"text","encoding":{"text":{"field":"cm"},"x":{"datum":-10.4},"y":{"datum":-0.63}}},
  {"mark":{"type":"text","align":"right"},"encoding":{"text":{"field":"vr"},"x":{"datum":90.3},"y":{"datum":-0.63}}}]},
 {"width":276,"height":85,"data":{"name":"lab"},"transform":[{"filter":"datum.p=='L5'"}],"layer":[
  {"data":{"name":"w"},"transform":[{"filter":"datum.p=='L5'"}],"mark":"line","encoding":{"x":{"field":"t","type":"quantitative","scale":{"domain":[-13.76,94.73],"nice":false}},"y":{"field":"a","type":"quantitative","scale":{"domain":[-1.567,1.267],"nice":false}},"color":{"field":"s","type":"nominal"}}},
  {"mark":"text","encoding":{"text":{"field":"st"},"x":{"datum":-10.4},"y":{"datum":0.37}}},
  {"mark":"text","encoding":{"text":{"field":"cm"},"x":{"datum":-10.4},"y":{"datum":-0.63}}},
  {"mark":{"type":"text","align":"right"},"encoding":{"text":{"field":"vr"},"x":{"datum":90.3},"y":{"datum":-0.63}}}]},
 {"width":276,"height":86,"data":{"name":"lab"},"transform":[{"filter":"datum.p=='L6'"}],"layer":[
  {"data":{"name":"w"},"transform":[{"filter":"datum.p=='L6'"}],"mark":"line","encoding":{"x":{"field":"t","type":"quantitative","scale":{"domain":[-13.76,94.73],"nice":false}},"y":{"field":"a","type":"quantitative","scale":{"domain":[-1.277,1.59],"nice":false}},"color":{"field":"s","type":"nominal"}}},
  {"mark":"text","encoding":{"text":{"field":"st"},"x":{"datum":-10.4},"y":{"datum":0.37}}},
  {"mark":"text","encoding":{"text":{"field":"cm"},"x":{"datum":-10.4},"y":{"datum":-0.63}}},
  {"mark":{"type":"text","align":"right"},"encoding":{"text":{"field":"vr"},"x":{"datum":90.3},"y":{"datum":-0.63}}}]},
 {"width":276,"height":77,"data":{"name":"lab"},"transform":[{"filter":"datum.p=='L7'"}],"layer":[
  {"data":{"name":"w"},"transform":[{"filter":"datum.p=='L7'"}],"mark":"line","encoding":{"x":{"field":"t","type":"quantitative","scale":{"domain":[-13.76,94.73],"nice":false}},"y":{"field":"a","type":"quantitative","scale":{"domain":[-1.267,1.3],"nice":false}},"color":{"field":"s","type":"nominal"}}},
  {"mark":"text","encoding":{"text":{"field":"st"},"x":{"datum":-10.4},"y":{"datum":0.37}}},
  {"mark":"text","encoding":{"text":{"field":"cm"},"x":{"datum":-10.4},"y":{"datum":-0.63}}},
  {"mark":{"type":"text","align":"right"},"encoding":{"text":{"field":"vr"},"x":{"datum":90.3},"y":{"datum":-0.63}}}]},
 {"width":276,"height":76,"data":{"name":"lab"},"transform":[{"filter":"datum.p=='L8'"}],"layer":[
  {"data":{"name":"w"},"transform":[{"filter":"datum.p=='L8'"}],"mark":"line","encoding":{"x":{"field":"t","type":"quantitative","scale":{"domain":[-13.76,94.73],"nice":false}},"y":{"field":"a","type":"quantitative","scale":{"domain":[-1.243,1.29],"nice":false}},"color":{"field":"s","type":"nominal"}}},
  {"mark":"text","encoding":{"text":{"field":"st"},"x":{"datum":-10.4},"y":{"datum":0.37}}},
  {"mark":"text","encoding":{"text":{"field":"cm"},"x":{"datum":-10.4},"y":{"datum":-0.63}}},
  {"mark":{"type":"text","align":"right"},"encoding":{"text":{"field":"vr"},"x":{"datum":90.3},"y":{"datum":-0.63}}}]},
 {"width":276,"height":78,"data":{"name":"lab"},"transform":[{"filter":"datum.p=='L9'"}],"layer":[
  {"data":{"name":"w"},"transform":[{"filter":"datum.p=='L9'"}],"mark":"line","encoding":{"x":{"field":"t","type":"quantitative","scale":{"domain":[-13.76,94.73],"nice":false}},"y":{"field":"a","type":"quantitative","scale":{"domain":[-1.367,1.233],"nice":false}},"color":{"field":"s","type":"nominal"}}},
  {"mark":"text","encoding":{"text":{"field":"st"},"x":{"datum":-10.4},"y":{"datum":0.37}}},
  {"mark":"text","encoding":{"text":{"field":"cm"},"x":{"datum":-10.4},"y":{"datum":-0.63}}},
  {"mark":{"type":"text","align":"right"},"encoding":{"text":{"field":"vr"},"x":{"datum":90.3},"y":{"datum":-0.63}}}]}
], "spacing": 0, "bounds": "flush"},
{"vconcat": [
 {"width":280,"height":113,"data":{"name":"lab"},"transform":[{"filter":"datum.p=='M1'"}],"layer":[
  {"data":{"name":"w"},"transform":[{"filter":"datum.p=='M1'"}],"mark":"line","encoding":{"x":{"field":"t","type":"quantitative","scale":{"domain":[-14.43,95.63],"nice":false}},"y":{"field":"a","type":"quantitative","scale":{"domain":[-1.243,2.523],"nice":false}},"color":{"field":"s","type":"nominal"}}},
  {"mark":{"type":"rect","color":"#3c3cff"},"encoding":{"x":{"datum":-14.43},"x2":{"datum":95.63},"y":{"datum":2.275},"y2":{"datum":2.358}}},
  {"mark":"text","encoding":{"text":{"field":"st"},"x":{"datum":-10.4},"y":{"datum":0.37}}},
  {"mark":"text","encoding":{"text":{"field":"cm"},"x":{"datum":-10.4},"y":{"datum":-0.63}}},
  {"mark":{"type":"text","align":"right"},"encoding":{"text":{"field":"vr"},"x":{"datum":90.1},"y":{"datum":-0.63}}}]},
 {"width":280,"height":75,"data":{"name":"lab"},"transform":[{"filter":"datum.p=='M2'"}],"layer":[
  {"data":{"name":"w"},"transform":[{"filter":"datum.p=='M2'"}],"mark":"line","encoding":{"x":{"field":"t","type":"quantitative","scale":{"domain":[-14.43,95.63],"nice":false}},"y":{"field":"a","type":"quantitative","scale":{"domain":[-1.267,1.233],"nice":false}},"color":{"field":"s","type":"nominal"}}},
  {"mark":"text","encoding":{"text":{"field":"st"},"x":{"datum":-10.4},"y":{"datum":0.37}}},
  {"mark":"text","encoding":{"text":{"field":"cm"},"x":{"datum":-10.4},"y":{"datum":-0.63}}},
  {"mark":{"type":"text","align":"right"},"encoding":{"text":{"field":"vr"},"x":{"datum":90.1},"y":{"datum":-0.63}}}]},
 {"width":280,"height":82,"data":{"name":"lab"},"transform":[{"filter":"datum.p=='M3'"}],"layer":[
  {"data":{"name":"w"},"transform":[{"filter":"datum.p=='M3'"}],"mark":"line","encoding":{"x":{"field":"t","type":"quantitative","scale":{"domain":[-14.43,95.63],"nice":false}},"y":{"field":"a","type":"quantitative","scale":{"domain":[-1.433,1.3],"nice":false}},"color":{"field":"s","type":"nominal"}}},
  {"mark":"text","encoding":{"text":{"field":"st"},"x":{"datum":-10.4},"y":{"datum":0.37}}},
  {"mark":"text","encoding":{"text":{"field":"cm"},"x":{"datum":-10.4},"y":{"datum":-0.63}}},
  {"mark":{"type":"text","align":"right"},"encoding":{"text":{"field":"vr"},"x":{"datum":90.1},"y":{"datum":-0.63}}}]},
 {"width":280,"height":238,"layer":[
  {"data":{"name":"ctr"},"mark":{"type":"point","shape":"circle","size":49284,"filled":false,"color":"#2a2a2a","strokeWidth":2.2,"opacity":1},"encoding":{"x":{"field":"x","type":"quantitative","scale":{"domain":[-1.248,1.275],"nice":false}},"y":{"field":"y","type":"quantitative","scale":{"domain":[-1.09,1.054],"nice":false}}}},
  {"data":{"name":"np"},"mark":{"type":"line","interpolate":"catmull-rom","color":"#2a2a2a","strokeWidth":2.6,"opacity":1},"encoding":{"x":{"field":"x","type":"quantitative"},"y":{"field":"y","type":"quantitative"},"detail":{"field":"pl"},"order":{"field":"i"}}},
  {"data":{"name":"dots"},"mark":{"type":"point","shape":"square","filled":true,"size":7,"color":"#222","opacity":1},"encoding":{"x":{"field":"x","type":"quantitative"},"y":{"field":"y","type":"quantitative"}}},
  {"data":{"name":"ctr"},"mark":{"type":"point","shape":"circle","size":676,"filled":false,"color":"#222","strokeWidth":2.5,"opacity":1},"encoding":{"x":{"field":"x","type":"quantitative"},"y":{"field":"y","type":"quantitative"}}},
  {"data":{"name":"ctr"},"mark":{"type":"point","shape":"circle","size":30,"filled":true,"color":"#222","opacity":1},"encoding":{"x":{"field":"x","type":"quantitative"},"y":{"field":"y","type":"quantitative"}}},
  {"data":{"name":"sta"},"mark":{"type":"text","color":"#ff1aff","fontSize":11,"align":"center"},"encoding":{"text":{"field":"k"},"x":{"field":"x","type":"quantitative"},"y":{"field":"y","type":"quantitative"}}}]},
 {"width":280,"height":100,"data":{"name":"lab"},"transform":[{"filter":"datum.p=='M4'"}],"layer":[
  {"data":{"name":"w"},"transform":[{"filter":"datum.p=='M4'"}],"mark":"line","encoding":{"x":{"field":"t","type":"quantitative","scale":{"domain":[-14.43,95.63],"nice":false}},"y":{"field":"a","type":"quantitative","scale":{"domain":[-1.267,2.067],"nice":false}},"color":{"field":"s","type":"nominal"}}},
  {"mark":"text","encoding":{"text":{"field":"st"},"x":{"datum":-10.4},"y":{"datum":0.37}}},
  {"mark":"text","encoding":{"text":{"field":"cm"},"x":{"datum":-10.4},"y":{"datum":-0.63}}},
  {"mark":{"type":"text","align":"right"},"encoding":{"text":{"field":"vr"},"x":{"datum":90.1},"y":{"datum":-0.63}}}]},
 {"width":280,"height":76,"data":{"name":"lab"},"transform":[{"filter":"datum.p=='M5'"}],"layer":[
  {"data":{"name":"w"},"transform":[{"filter":"datum.p=='M5'"}],"mark":"line","encoding":{"x":{"field":"t","type":"quantitative","scale":{"domain":[-14.43,95.63],"nice":false}},"y":{"field":"a","type":"quantitative","scale":{"domain":[-1.243,1.29],"nice":false}},"color":{"field":"s","type":"nominal"}}},
  {"mark":"text","encoding":{"text":{"field":"st"},"x":{"datum":-10.4},"y":{"datum":0.37}}},
  {"mark":"text","encoding":{"text":{"field":"cm"},"x":{"datum":-10.4},"y":{"datum":-0.63}}},
  {"mark":{"type":"text","align":"right"},"encoding":{"text":{"field":"vr"},"x":{"datum":90.1},"y":{"datum":-0.63}}}]},
 {"width":280,"height":78,"data":{"name":"lab"},"transform":[{"filter":"datum.p=='M6'"}],"layer":[
  {"data":{"name":"w"},"transform":[{"filter":"datum.p=='M6'"}],"mark":"line","encoding":{"x":{"field":"t","type":"quantitative","scale":{"domain":[-14.43,95.63],"nice":false}},"y":{"field":"a","type":"quantitative","scale":{"domain":[-1.367,1.233],"nice":false}},"color":{"field":"s","type":"nominal"}}},
  {"mark":"text","encoding":{"text":{"field":"st"},"x":{"datum":-10.4},"y":{"datum":0.37}}},
  {"mark":"text","encoding":{"text":{"field":"cm"},"x":{"datum":-10.4},"y":{"datum":-0.63}}},
  {"mark":{"type":"text","align":"right"},"encoding":{"text":{"field":"vr"},"x":{"datum":90.1},"y":{"datum":-0.63}}}]}
], "spacing": 0, "bounds": "flush"},
{"vconcat": [
 {"width":271,"height":295,"data":{"name":"info"},"layer":[
  {"transform":[{"filter":"datum.k=='date'"}],"mark":{"type":"rect","color":"#3c3cff"},"encoding":{"x":{"datum":-26.28,"type":"quantitative","scale":{"domain":[-26.28,80.5],"nice":false}},"x2":{"datum":80.5},"y":{"datum":0.198,"type":"quantitative","scale":{"domain":[11.8,0],"nice":false}},"y2":{"datum":0.318}}},
  {"transform":[{"filter":"datum.k=='date'"}],"mark":{"type":"rule","color":"#3c3cff","strokeWidth":3},"encoding":{"x":{"datum":-21.28},"y":{"datum":0.24},"y2":{"datum":10.16}}},
  {"transform":[{"filter":"datum.k=='date'"}],"mark":{"type":"rule","color":"#3c3cff","strokeWidth":3},"encoding":{"x":{"datum":-21.28},"x2":{"datum":79.8},"y":{"datum":10.16}}},
  {"transform":[{"filter":"datum.k=='date'"}],"mark":{"type":"text","color":"#ff1a1a","fontSize":18},"encoding":{"text":{"field":"txt"},"x":{"datum":-3.94},"y":{"datum":0.9}}},
  {"transform":[{"filter":"datum.k=='phi'"}],"mark":{"type":"text","color":"#1e1eff","fontSize":14},"encoding":{"text":{"field":"txt"},"x":{"datum":-18.12},"y":{"datum":1.868}}},
  {"transform":[{"filter":"datum.k=='mw'"}],"mark":{"type":"text","fontSize":15.5},"encoding":{"text":{"field":"txt"},"x":{"datum":-18.12},"y":{"datum":2.908}}},
  {"transform":[{"filter":"datum.k=='mo'"}],"mark":{"type":"text","fontSize":15.5},"encoding":{"text":{"field":"txt"},"x":{"datum":-18.12},"y":{"datum":3.96}}},
  {"transform":[{"filter":"datum.k=='date'"}],"mark":{"type":"rule","color":"#444","strokeWidth":2},"encoding":{"x":{"datum":0},"x2":{"datum":60},"y":{"datum":5.468}}},
  {"data":{"name":"tk"},"transform":[{"filter":"datum.v==0 || datum.v==60"}],"mark":{"type":"rule","color":"#444","strokeWidth":2},"encoding":{"x":{"field":"v","type":"quantitative"},"y":{"datum":5.468},"y2":{"datum":5.24}}},
  {"data":{"name":"tk"},"transform":[{"filter":"datum.v>0 && datum.v<60"}],"mark":{"type":"rule","color":"#444","strokeWidth":2},"encoding":{"x":{"field":"v","type":"quantitative"},"y":{"datum":5.468},"y2":{"datum":5.36}}},
  {"data":{"name":"tk"},"transform":[{"filter":"datum.v % 20 == 0"}],"mark":{"type":"text","align":"center","fontSize":15.5},"encoding":{"text":{"field":"v","type":"quantitative"},"x":{"field":"v","type":"quantitative"},"y":{"datum":6.468}}},
  {"transform":[{"filter":"datum.k=='time'"}],"mark":{"type":"text","align":"center","fontSize":15.5},"encoding":{"text":{"field":"txt"},"x":{"datum":33.5},"y":{"datum":7.6}}},
  {"transform":[{"filter":"datum.k=='mis'"}],"mark":{"type":"text","color":"#b23cf5","fontSize":15.5},"encoding":{"text":{"field":"txt"},"x":{"datum":-18.12},"y":{"datum":9.572}}},
  {"transform":[{"filter":"datum.k=='dc'"}],"mark":{"type":"text","fontSize":13},"encoding":{"text":{"field":"txt"},"x":{"datum":-18.12},"y":{"datum":10.772}}}]},
 {"width":271,"height":85,"data":{"name":"lab"},"transform":[{"filter":"datum.p=='R1'"}],"layer":[
  {"data":{"name":"w"},"transform":[{"filter":"datum.p=='R1'"}],"mark":"line","encoding":{"x":{"field":"t","type":"quantitative","scale":{"domain":[-11.52,95.01],"nice":false}},"y":{"field":"a","type":"quantitative","scale":{"domain":[-1.257,1.577],"nice":false}},"color":{"field":"s","type":"nominal"}}},
  {"mark":"text","encoding":{"text":{"field":"st"},"x":{"datum":-10.4},"y":{"datum":0.37}}},
  {"mark":"text","encoding":{"text":{"field":"cm"},"x":{"datum":-10.4},"y":{"datum":-0.63}}},
  {"mark":{"type":"text","align":"right"},"encoding":{"text":{"field":"vr"},"x":{"datum":90.1},"y":{"datum":-0.63}}}]},
 {"width":271,"height":75,"data":{"name":"lab"},"transform":[{"filter":"datum.p=='R2'"}],"layer":[
  {"data":{"name":"w"},"transform":[{"filter":"datum.p=='R2'"}],"mark":"line","encoding":{"x":{"field":"t","type":"quantitative","scale":{"domain":[-11.52,95.01],"nice":false}},"y":{"field":"a","type":"quantitative","scale":{"domain":[-1.267,1.233],"nice":false}},"color":{"field":"s","type":"nominal"}}},
  {"mark":"text","encoding":{"text":{"field":"st"},"x":{"datum":-10.4},"y":{"datum":0.37}}},
  {"mark":"text","encoding":{"text":{"field":"cm"},"x":{"datum":-10.4},"y":{"datum":-0.63}}},
  {"mark":{"type":"text","align":"right"},"encoding":{"text":{"field":"vr"},"x":{"datum":90.1},"y":{"datum":-0.63}}}]},
 {"width":271,"height":76,"data":{"name":"lab"},"transform":[{"filter":"datum.p=='R3'"}],"layer":[
  {"data":{"name":"w"},"transform":[{"filter":"datum.p=='R3'"}],"mark":"line","encoding":{"x":{"field":"t","type":"quantitative","scale":{"domain":[-11.52,95.01],"nice":false}},"y":{"field":"a","type":"quantitative","scale":{"domain":[-1.257,1.277],"nice":false}},"color":{"field":"s","type":"nominal"}}},
  {"mark":"text","encoding":{"text":{"field":"st"},"x":{"datum":-10.4},"y":{"datum":0.37}}},
  {"mark":"text","encoding":{"text":{"field":"cm"},"x":{"datum":-10.4},"y":{"datum":-0.63}}},
  {"mark":{"type":"text","align":"right"},"encoding":{"text":{"field":"vr"},"x":{"datum":90.1},"y":{"datum":-0.63}}}]},
 {"width":271,"height":77,"data":{"name":"lab"},"transform":[{"filter":"datum.p=='R4'"}],"layer":[
  {"data":{"name":"w"},"transform":[{"filter":"datum.p=='R4'"}],"mark":"line","encoding":{"x":{"field":"t","type":"quantitative","scale":{"domain":[-11.52,95.01],"nice":false}},"y":{"field":"a","type":"quantitative","scale":{"domain":[-1.267,1.3],"nice":false}},"color":{"field":"s","type":"nominal"}}},
  {"mark":"text","encoding":{"text":{"field":"st"},"x":{"datum":-10.4},"y":{"datum":0.37}}},
  {"mark":"text","encoding":{"text":{"field":"cm"},"x":{"datum":-10.4},"y":{"datum":-0.63}}},
  {"mark":{"type":"text","align":"right"},"encoding":{"text":{"field":"vr"},"x":{"datum":90.1},"y":{"datum":-0.63}}}]},
 {"width":271,"height":76,"data":{"name":"lab"},"transform":[{"filter":"datum.p=='R5'"}],"layer":[
  {"data":{"name":"w"},"transform":[{"filter":"datum.p=='R5'"}],"mark":"line","encoding":{"x":{"field":"t","type":"quantitative","scale":{"domain":[-11.52,95.01],"nice":false}},"y":{"field":"a","type":"quantitative","scale":{"domain":[-1.243,1.29],"nice":false}},"color":{"field":"s","type":"nominal"}}},
  {"mark":"text","encoding":{"text":{"field":"st"},"x":{"datum":-10.4},"y":{"datum":0.37}}},
  {"mark":"text","encoding":{"text":{"field":"cm"},"x":{"datum":-10.4},"y":{"datum":-0.63}}},
  {"mark":{"type":"text","align":"right"},"encoding":{"text":{"field":"vr"},"x":{"datum":90.1},"y":{"datum":-0.63}}}]},
 {"width":271,"height":78,"data":{"name":"lab"},"transform":[{"filter":"datum.p=='R6'"}],"layer":[
  {"data":{"name":"w"},"transform":[{"filter":"datum.p=='R6'"}],"mark":"line","encoding":{"x":{"field":"t","type":"quantitative","scale":{"domain":[-11.52,95.01],"nice":false}},"y":{"field":"a","type":"quantitative","scale":{"domain":[-1.367,1.233],"nice":false}},"color":{"field":"s","type":"nominal"}}},
  {"mark":"text","encoding":{"text":{"field":"st"},"x":{"datum":-10.4},"y":{"datum":0.37}}},
  {"mark":"text","encoding":{"text":{"field":"cm"},"x":{"datum":-10.4},"y":{"datum":-0.63}}},
  {"mark":{"type":"text","align":"right"},"encoding":{"text":{"field":"vr"},"x":{"datum":90.1},"y":{"datum":-0.63}}}]}
], "spacing": 0, "bounds": "flush"}
]
}
